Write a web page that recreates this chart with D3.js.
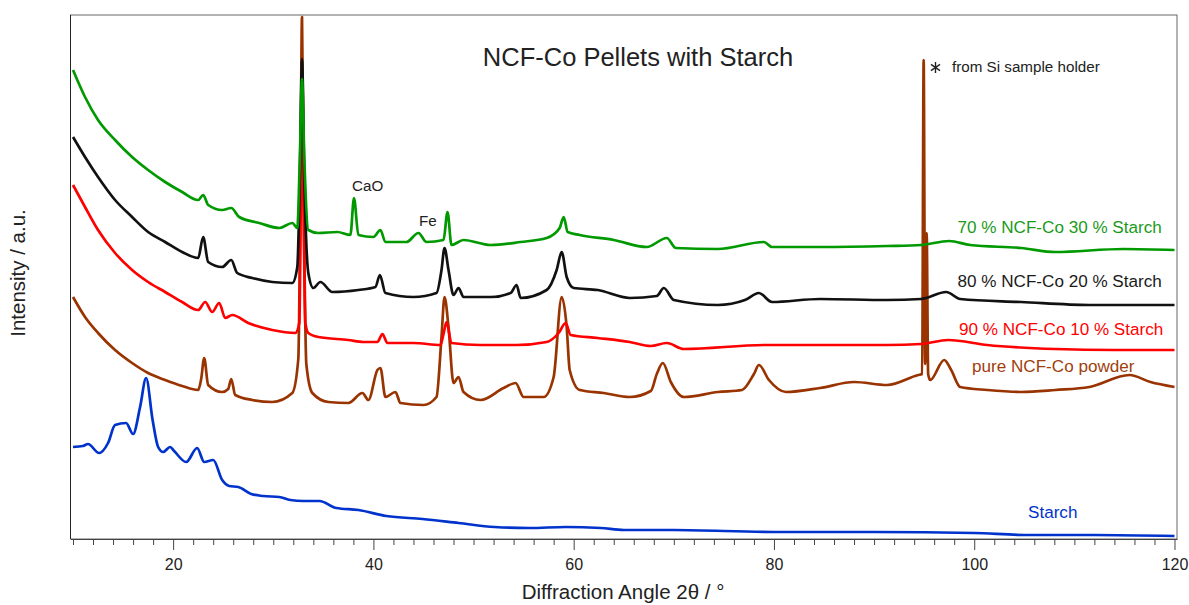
<!DOCTYPE html>
<html>
<head>
<meta charset="UTF-8">
<title>NCF-Co Pellets with Starch</title>
<style>
    body {
        margin: 0;
        background: #fff;
        font-family: "Liberation Sans", Arial, sans-serif;
    }

    .trace {
        fill: none;
        stroke-width: 2.7;
        stroke-linejoin: round;
    }

    .axis text {
        font-size: 16px;
        fill: #222;
    }

    .axis line,
    .axis path {
        stroke: #444;
    }

    .note {
        font-size: 15.2px;
        fill: #222;
    }

    .serieslabel {
        font-size: 17.1px;
    }
</style>
</head>
<body>
<script src="https://d3js.org/d3.v7.min.js"></script>
<script>
    /// data: [2theta in deg, intensity in a.u.]

    var starch = [[10.0, 92], [11.0, 93], [11.5, 95], [12.6, 86], [13.5, 96], [14.2, 114], [15.3, 116], [16.0, 105],
        [16.7, 132], [17.3, 161], [17.95, 119], [18.5, 92], [19.0, 87], [19.7, 92], [20.1, 88], [21.3, 77],
        [22.4, 91], [23.1, 77], [24.0, 79], [24.9, 59], [25.6, 53], [26.5, 52], [27.8, 45], [29.0, 43], [30.6, 42],
        [31.7, 39], [33.0, 38], [34.6, 38], [36.3, 31], [38.5, 29], [41.3, 23], [44.9, 20], [48.5, 16], [52.1, 12],
        [55.6, 11], [59.2, 12], [62.7, 11], [65, 9], [70, 9], [80, 7], [90, 7], [100, 6], [105, 4], [112, 4], [120, 3]];

    var pureNCF = [[10.0, 242], [11.2, 222], [12.5, 206], [14.2, 189], [15.9, 176], [17.5, 166], [19.2, 159],
        [20.9, 153], [22.5, 149], [22.8, 160], [23.1, 181], [23.5, 154], [24.9, 147], [25.5, 150], [25.8, 160],
        [26.2, 144], [27.9, 139], [29.9, 137], [31.9, 146], [32.5, 180], [32.7, 330], [32.87, 522], [33.05, 330],
        [33.3, 175], [33.9, 146], [35.5, 137], [37.5, 136], [38.9, 146], [39.5, 139], [40.4, 169], [40.7, 171],
        [41.2, 142], [42.2, 147], [42.7, 136], [45.0, 134], [46.3, 142], [46.8, 202], [47.1, 242], [47.5, 212],
        [48.0, 156], [48.5, 162], [49.0, 147], [50.7, 139], [53.0, 151], [54.2, 156], [55.0, 142], [57.0, 142],
        [58.0, 162], [58.8, 242], [59.3, 212], [59.6, 169], [60.6, 149], [63.0, 146], [65.6, 142], [67.7, 148],
        [68.3, 165], [68.9, 176], [69.7, 157], [71.0, 142], [74.4, 147], [76.8, 149], [78.0, 165], [78.5, 174],
        [79.5, 159], [81.2, 147], [84.6, 151], [88.0, 157], [91.3, 154], [94.4, 164], [94.8, 165], [94.95, 479],
        [95.1, 175], [95.25, 306], [95.4, 165], [95.6, 159], [97.0, 179], [97.7, 169], [98.6, 152], [101.3, 149],
        [104.7, 147], [108.1, 149], [111.5, 152], [115.5, 164], [117.6, 157], [120, 152]];

    var ncf90 = [[10.0, 354], [11.2, 332], [12.5, 309], [14.2, 286], [15.9, 269], [17.5, 257], [19.2, 247],
        [20.9, 237], [22.5, 229], [23.2, 237], [23.9, 227], [24.6, 236], [25.2, 221], [25.9, 224], [27.5, 216],
        [29.9, 209], [32.2, 206], [32.6, 216], [32.87, 430], [33.2, 216], [33.5, 206], [34.5, 202], [37.5, 199],
        [39.0, 197], [40.4, 197], [40.9, 205], [41.4, 196], [44.0, 196], [46.7, 194], [47.0, 205], [47.3, 217],
        [47.8, 196], [50.7, 194], [54.3, 194], [57.3, 197], [58.5, 206], [59.2, 216], [59.7, 204], [62.4, 201],
        [65.6, 197], [67.7, 193], [69.3, 196], [71.0, 190], [79.1, 194], [84.6, 194], [91.3, 194], [94.7, 195],
        [97.4, 199], [101.3, 194], [108.1, 190], [114, 189], [120, 189]];

    var ncf80 = [[10.0, 402], [11.2, 382], [12.5, 362], [14.2, 339], [15.9, 322], [17.5, 307], [19.2, 297],
        [20.9, 287], [22.5, 281], [23.0, 302], [23.5, 277], [24.9, 272], [25.8, 279], [26.4, 266], [27.9, 261],
        [29.9, 257], [31.9, 256], [32.4, 272], [32.65, 360], [32.87, 480], [33.1, 360], [33.5, 266], [34.0, 251],
        [34.7, 257], [35.9, 247], [38.5, 249], [40.2, 252], [40.65, 264], [41.2, 246], [44.0, 242], [46.3, 246],
        [46.8, 269], [47.1, 291], [47.5, 269], [48.0, 244], [48.5, 251], [49.0, 242], [51.7, 242], [53.7, 246],
        [54.3, 254], [54.7, 241], [57.3, 249], [58.3, 269], [58.8, 287], [59.3, 262], [60.0, 251], [62.4, 249],
        [65.6, 241], [68.3, 243], [69.0, 251], [70.0, 239], [74.4, 234], [77.1, 239], [78.5, 246], [79.8, 237],
        [84.6, 240], [91.3, 239], [94.7, 240], [97.2, 247], [98.6, 240], [104.7, 237], [111.5, 234], [120, 234]];

    var ncf70 = [[10.0, 469], [11.2, 442], [12.5, 419], [14.2, 399], [15.9, 382], [17.5, 369], [19.2, 357],
        [20.9, 347], [22.5, 339], [23.0, 344], [23.5, 334], [24.9, 329], [25.8, 331], [26.6, 322], [28.6, 316],
        [30.6, 311], [31.9, 316], [32.4, 311], [32.65, 380], [32.87, 460], [33.1, 380], [33.5, 309], [34.5, 306],
        [36.4, 307], [37.7, 304], [38.06, 341], [38.5, 304], [40.0, 302], [40.7, 309], [41.2, 297], [43.3, 297],
        [44.5, 306], [45.3, 297], [47.0, 299], [47.4, 327], [47.8, 294], [49.0, 299], [51.7, 294], [54.7, 297],
        [57.3, 301], [58.6, 311], [59.0, 322], [59.4, 307], [60.6, 304], [64.0, 299], [67.3, 292], [69.3, 301],
        [70.2, 291], [74.4, 290], [79.0, 297], [79.8, 292], [84.6, 292], [91.3, 293], [94.7, 294], [97.5, 298],
        [99.6, 294], [104.7, 291], [108.1, 287], [114.9, 290], [120, 289]];

    var seriesNames = ["Starch", "pure NCF-Co powder", "90 % NCF-Co 10 % Starch", "80 % NCF-Co 20 % Starch", "70 % NCF-Co 30 % Starch"];
    var seriesColors = ["#0033cc", "#993300", "#ff0000", "#111111", "#009900"];
    var labelColors = ["#0033cc", "#a0400c", "#ff0000", "#1a1a1a", "#1a9a1a"];
    var seriesData = [starch, pureNCF, ncf90, ncf80, ncf70];

    var majorTicks = [20, 40, 60, 80, 100, 120];
    var minorTicks = d3.range(10, 121, 2).filter(function(d) { return majorTicks.indexOf(d) < 0; });

    /// main

    var width = 1189,
        height = 605;
    var plot = { left: 70.5, right: 1177, top: 15, bottom: 539 };

    var svg = d3.select("body").append("svg")
        .attr("width", width)
        .attr("height", height);

    var x = d3.scaleLinear().domain([9.75, 120.25]).range([plot.left, plot.right]);
    var y = d3.scaleLinear().domain([0, 524]).range([plot.bottom, plot.top]);

    // frame
    svg.append("rect")
        .attr("x", plot.left)
        .attr("y", plot.top)
        .attr("width", plot.right - plot.left)
        .attr("height", plot.bottom - plot.top)
        .attr("fill", "none")
        .attr("stroke", "#666");
    svg.append("line")
        .attr("x1", plot.left).attr("x2", plot.left)
        .attr("y1", plot.top).attr("y2", plot.bottom)
        .attr("stroke", "#222");

    // traces
    var line = d3.line()
        .x(function(d) { return x(d[0]); })
        .y(function(d) { return y(d[1]); })
        .curve(d3.curveMonotoneX);

    svg.append("g")
        .selectAll("path")
        .data(seriesData)
        .enter().append("path")
        .attr("class", "trace")
        .attr("stroke", function(d, i) { return seriesColors[i]; })
        .attr("d", line);

    // x axis
    svg.append("g")
        .attr("class", "axis")
        .attr("transform", "translate(0," + plot.bottom + ")")
        .call(d3.axisBottom(x).tickValues(minorTicks).tickSize(6).tickSizeOuter(0).tickFormat(""));
    svg.append("g")
        .attr("class", "axis")
        .attr("transform", "translate(0," + plot.bottom + ")")
        .call(d3.axisBottom(x).tickValues(majorTicks).tickSize(11).tickSizeOuter(0).tickPadding(9))
        .call(function(g) { g.select(".domain").remove(); });

    // axis titles
    svg.append("text")
        .attr("x", 623)
        .attr("y", 599)
        .attr("text-anchor", "middle")
        .style("font-size", "20.5px")
        .attr("fill", "#222")
        .text("Diffraction Angle 2\u03b8 / \u00b0");
    svg.append("text")
        .attr("transform", "translate(25,273) rotate(-90)")
        .attr("text-anchor", "middle")
        .style("font-size", "20.5px")
        .attr("fill", "#222")
        .text("Intensity / a.u.");

    // chart title
    svg.append("text")
        .attr("x", 638)
        .attr("y", 66)
        .attr("text-anchor", "middle")
        .style("font-size", "25.5px")
        .attr("fill", "#222")
        .text("NCF-Co Pellets with Starch");

    // peak notes
    svg.append("text").attr("class", "note").attr("x", 352).attr("y", 191).text("CaO");
    svg.append("text").attr("class", "note").attr("x", 419).attr("y", 226).text("Fe");
    svg.append("text").attr("class", "note").attr("x", 952).attr("y", 72).text("from Si sample holder");

    // asterisk marker
    var star = svg.append("g")
        .attr("transform", "translate(935.5,67.5)")
        .attr("stroke", "#222")
        .attr("stroke-width", 1.4);
    [0, 55, 125].forEach(function(a) {
        var r = a * Math.PI / 180;
        star.append("line")
            .attr("x1", -5.5 * Math.sin(r)).attr("y1", -5.5 * Math.cos(r))
            .attr("x2", 5.5 * Math.sin(r)).attr("y2", 5.5 * Math.cos(r));
    });

    // series labels
    var labelPos = [[1028, 518], [972, 372], [959, 335], [957.5, 287], [957.5, 233]];
    svg.append("g")
        .selectAll("text")
        .data(seriesNames)
        .enter().append("text")
        .attr("class", "serieslabel")
        .attr("x", function(d, i) { return labelPos[i][0]; })
        .attr("y", function(d, i) { return labelPos[i][1]; })
        .attr("fill", function(d, i) { return labelColors[i]; })
        .text(function(d) { return d; });
</script>
</body>
</html>
